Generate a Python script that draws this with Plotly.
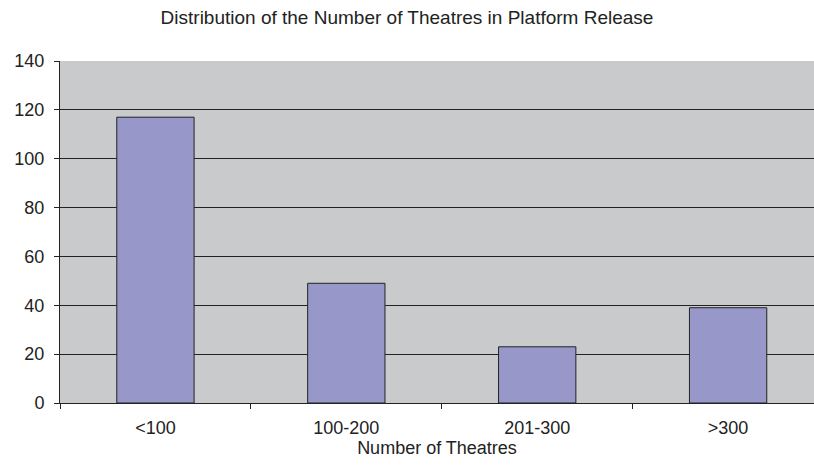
import plotly.graph_objects as go

categories = ["<100", "100-200", "201-300", ">300"]
counts = [117, 49, 23, 39]
y_ticks = [0, 20, 40, 60, 80, 100, 120, 140]

FONT = "Liberation Sans, Arial, sans-serif"

fig = go.Figure(
    go.Bar(
        x=categories,
        y=counts,
        width=0.405,
        marker=dict(color="#9797CA", line=dict(color="#222222", width=1)),
    )
)

fig.update_layout(
    width=814,
    height=470,
    margin=dict(l=60, r=0, t=61, b=67),
    paper_bgcolor="white",
    plot_bgcolor="#C9CACC",
    showlegend=False,
    font=dict(family=FONT, color="#222222", size=18),
    title=dict(
        text="Distribution of the Number of Theatres in Platform Release",
        x=0.5, xref="container", xanchor="center",
        y=1 - 17 / 470, yref="container", yanchor="middle",
        font=dict(size=19, family=FONT, color="#222222"),
    ),
)

fig.update_xaxes(
    type="category",
    range=[-0.5, 3.45],
    showline=True, linecolor="#222222", linewidth=1,
    ticks="outside", ticklen=5, tickcolor="#222222",
    tickson="boundaries",
    ticklabelstandoff=8,
    showgrid=False,
    tickfont=dict(size=18),
    title=dict(text="Number of Theatres", font=dict(size=18), standoff=2),
)
fig.update_yaxes(
    range=[0, 140],
    tickvals=y_ticks,
    showline=True, linecolor="#222222", linewidth=1,
    ticks="outside", ticklen=5, tickcolor="#222222",
    ticklabelstandoff=6,
    showgrid=True, gridcolor="#222222", gridwidth=1,
    zeroline=False,
    tickfont=dict(size=18),
)

fig.write_html("out.html")
